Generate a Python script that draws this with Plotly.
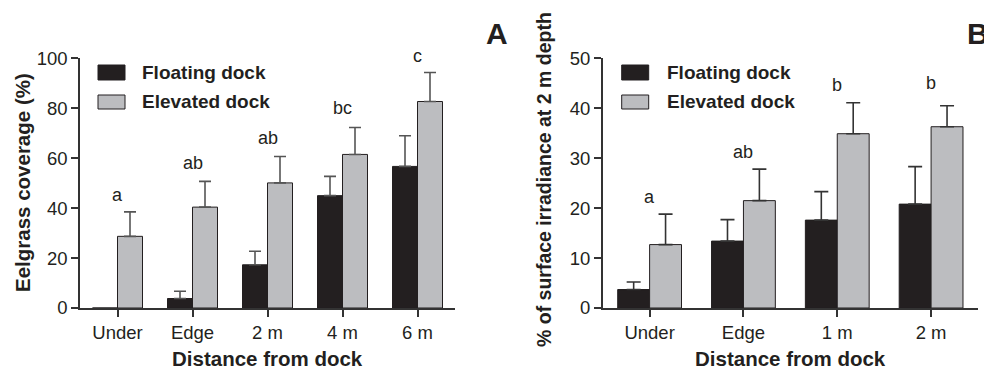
import plotly.graph_objects as go

# ---------------- data ----------------
cats_a = ["Under", "Edge", "2 m", "4 m", "6 m"]
float_a = [0, 3.8, 17.3, 45.0, 56.7]
float_a_err = [None, 2.9, 5.4, 7.7, 12.3]
elev_a = [28.7, 40.4, 50.1, 61.5, 82.7]
elev_a_err = [9.8, 10.3, 10.6, 10.8, 11.6]
letters_a = ["a", "ab", "ab", "bc", "c"]
letters_a_y = [45.3, 58.0, 68.0, 80.0, 101.0]

cats_b = ["Under", "Edge", "1 m", "2 m"]
float_b = [3.7, 13.4, 17.6, 20.8]
float_b_err = [1.5, 4.3, 5.7, 7.5]
elev_b = [12.7, 21.5, 34.9, 36.3]
elev_b_err = [6.1, 6.3, 6.2, 4.2]
letters_b = ["a", "ab", "b", "b"]
letters_b_y = [22.2, 31.3, 44.6, 45.0]

series_names = ["Floating dock", "Elevated dock"]

# ---------------- style ----------------
OFF = 8  # page body margin
W, H = 992 - OFF, 369 - OFF
FONT = "Liberation Sans, Arial, Helvetica, sans-serif"
BLACK = "#231f20"
GRAY = "#bcbdc0"
AXIS = "#333333"
ERR_A = "#555555"
ERR_B = "#333333"

fig = go.Figure()

def add_pair(cats, fv, fe, ev, ee, xa, ya, w, errc, capw):
    fig.add_trace(go.Bar(
        x=cats, y=fv, xaxis=xa, yaxis=ya, width=w, offset=-w,
        marker=dict(color=BLACK, line=dict(color=BLACK, width=1)),
        error_y=dict(type="data", symmetric=False, array=fe,
                     arrayminus=[0] * len(fv), color=errc, thickness=1.6, width=capw),
        name=series_names[0], showlegend=False))
    fig.add_trace(go.Bar(
        x=cats, y=ev, xaxis=xa, yaxis=ya, width=w, offset=0,
        marker=dict(color=GRAY, line=dict(color=BLACK, width=1)),
        error_y=dict(type="data", symmetric=False, array=ee,
                     arrayminus=[0] * len(ev), color=errc, thickness=1.6, width=capw),
        name=series_names[1], showlegend=False))

add_pair(cats_a, float_a, float_a_err, elev_a, elev_a_err, "x", "y", 1 / 3, ERR_A, 6)
add_pair(cats_b, float_b, float_b_err, elev_b, elev_b_err, "x2", "y2", 0.34, ERR_B, 7)

# convert page pixel positions to paper fractions
px = lambda v: (v - OFF) / W
py = lambda v: (H - (v - OFF)) / H

PLOT_TOP, PLOT_BOT = 58.3, 308.0
YMAX_A, YMAX_B = 100, 50

axis_common = dict(showline=True, linecolor=AXIS, linewidth=1.5, ticks="outside",
                   tickcolor=AXIS, tickwidth=1.5, showgrid=False, zeroline=False,
                   automargin=False,
                   tickfont=dict(family=FONT, size=18.5, color=BLACK))

fig.update_layout(
    width=W, height=H, margin=dict(l=0, r=0, t=0, b=0, pad=0, autoexpand=False),
    paper_bgcolor="white", plot_bgcolor="white", showlegend=False,
    font=dict(family=FONT, color=BLACK),
    xaxis=dict(domain=[px(80), px(455)], anchor="y", range=[-0.5, 4.5],
               ticklen=7, **axis_common),
    yaxis=dict(domain=[py(PLOT_BOT), py(PLOT_TOP)], anchor="x", range=[0, YMAX_A], dtick=20,
               ticklen=7, **axis_common),
    xaxis2=dict(domain=[px(602.7), px(978)], anchor="y2", range=[-0.5, 3.5],
                ticklen=7, **axis_common),
    yaxis2=dict(domain=[py(PLOT_BOT), py(PLOT_TOP)], anchor="x2", range=[0, YMAX_B], dtick=10,
                ticklen=7, **axis_common),
)

ann = []
shapes = []
# significance letters (letters above the axis top are pinned to the top and shifted up)
for cats, letters, ly, xr, yr, ymax in [(cats_a, letters_a, letters_a_y, "x", "y", YMAX_A),
                                        (cats_b, letters_b, letters_b_y, "x2", "y2", YMAX_B)]:
    ppu = (PLOT_BOT - PLOT_TOP) / ymax
    for c, t, yv in zip(cats, letters, ly):
        yy = min(yv, ymax)
        ann.append(dict(x=c, y=yy, xref=xr, yref=yr, text=t, showarrow=False,
                        yanchor="middle", yshift=(yv - yy) * ppu,
                        font=dict(size=18, family=FONT, color=BLACK)))

# axis titles
ann.append(dict(x=px(22), y=py(183), xref="paper", yref="paper", text="<b>Eelgrass coverage (%)</b>",
                textangle=-90, showarrow=False, xanchor="center", yanchor="middle",
                font=dict(size=20.5, family=FONT, color=BLACK)))
ann.append(dict(x=px(544), y=py(180), xref="paper", yref="paper",
                text="<b>% of surface irradiance at 2 m depth</b>",
                textangle=-90, showarrow=False, xanchor="center", yanchor="middle",
                font=dict(size=19.5, family=FONT, color=BLACK)))
for xr in ["x domain", "x2 domain"]:
    ann.append(dict(x=0.5, y=py(358), xref=xr, yref="paper", text="<b>Distance from dock</b>",
                    showarrow=False, xanchor="center", yanchor="middle",
                    font=dict(size=20.5, family=FONT, color=BLACK)))

# panel letters
ann.append(dict(x=px(497), y=py(34), xref="paper", yref="paper", text="<b>A</b>",
                showarrow=False, xanchor="center", yanchor="middle",
                font=dict(size=30, family=FONT, color=BLACK)))
ann.append(dict(x=px(991), y=py(34), xref="paper", yref="paper", text="<b>B</b>",
                showarrow=False, xanchor="right", yanchor="middle",
                font=dict(size=30, family=FONT, color=BLACK)))

# custom legends
for x0, tx in [(98, 140), (621.7, 665)]:
    for (y0, y1), col, name in [((65, 80), BLACK, series_names[0]), ((95, 109), GRAY, series_names[1])]:
        shapes.append(dict(type="rect", xref="paper", yref="paper",
                           x0=px(x0), x1=px(x0 + 27), y0=py(y1), y1=py(y0),
                           fillcolor=col, line=dict(color=BLACK, width=1)))
        ann.append(dict(x=px(tx), y=py((y0 + y1) / 2), xref="paper", yref="paper",
                        text="<b>" + name + "</b>", showarrow=False, xanchor="left",
                        yanchor="middle", font=dict(size=19, family=FONT, color=BLACK)))

fig.update_layout(annotations=ann, shapes=shapes)
fig.write_html("out.html")
